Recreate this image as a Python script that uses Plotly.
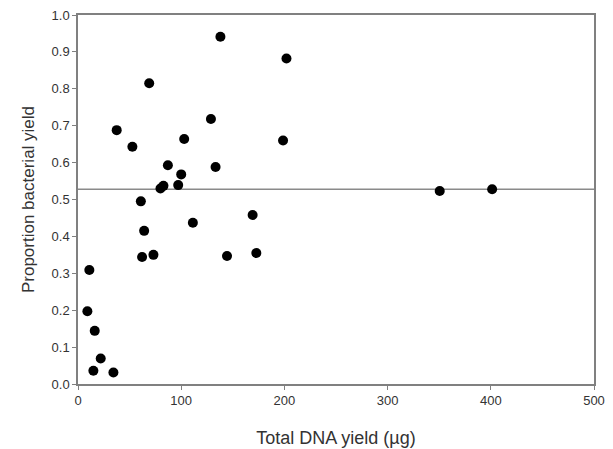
import plotly.graph_objects as go

dna_yield = [138, 202, 69, 37.5, 52.7, 128.8, 102.9, 198.7, 87.1, 133.3, 100, 97.1, 82.8, 79.9,
             60.9, 169.2, 111.3, 64.1, 62.1, 73.1, 144.4, 172.8, 11, 9.1, 16.2, 22, 14.9, 34.3,
             350.5, 401.3]
bact_prop = [0.941, 0.882, 0.815, 0.688, 0.643, 0.718, 0.664, 0.660, 0.593, 0.588, 0.568, 0.539,
             0.537, 0.530, 0.495, 0.458, 0.437, 0.415, 0.344, 0.350, 0.347, 0.355, 0.309, 0.197,
             0.144, 0.069, 0.036, 0.031, 0.523, 0.528]
line_x = [0, 500]
line_y = [0.528, 0.528]
x_ticks = [0, 100, 200, 300, 400, 500]
y_ticks = [0.0, 0.1, 0.2, 0.3, 0.4, 0.5, 0.6, 0.7, 0.8, 0.9, 1.0]

FONT = "Arial, Liberation Sans, sans-serif"

fig = go.Figure()
fig.add_trace(go.Scatter(x=line_x, y=line_y, mode="lines",
                         line=dict(color="#8a8a8a", width=1.5), hoverinfo="skip"))
fig.add_trace(go.Scatter(x=dna_yield, y=bact_prop, mode="markers",
                         marker=dict(color="black", size=10)))

axis_common = dict(showgrid=False, zeroline=False, showline=True, linecolor="#808080",
                   linewidth=1.5, mirror=True, ticks="outside", ticklen=4,
                   tickcolor="#808080", tickwidth=1, automargin=False,
                   ticklabeloverflow="allow",
                   tickfont=dict(family=FONT, size=13, color="#333333"))

# page body has an 8px default margin, so the figure is sized to fit inside the window
fig.update_layout(
    width=605, height=441,
    margin=dict(l=70, r=19, t=7, b=65),
    plot_bgcolor="white", paper_bgcolor="white",
    showlegend=False,
    xaxis=dict(range=[0, 500], tickvals=x_ticks, ticktext=[str(v) for v in x_ticks],
               title=dict(text="Total DNA yield (µg)", standoff=24,
                          font=dict(family=FONT, size=18, color="#333333")),
               **axis_common),
    yaxis=dict(range=[0, 1.0], tickvals=y_ticks, ticktext=[f"{v:.1f}" for v in y_ticks],
               title=dict(text="Proportion bacterial yield", standoff=13,
                          font=dict(family=FONT, size=17, color="#333333")),
               **axis_common),
)

fig.write_html("out.html")
